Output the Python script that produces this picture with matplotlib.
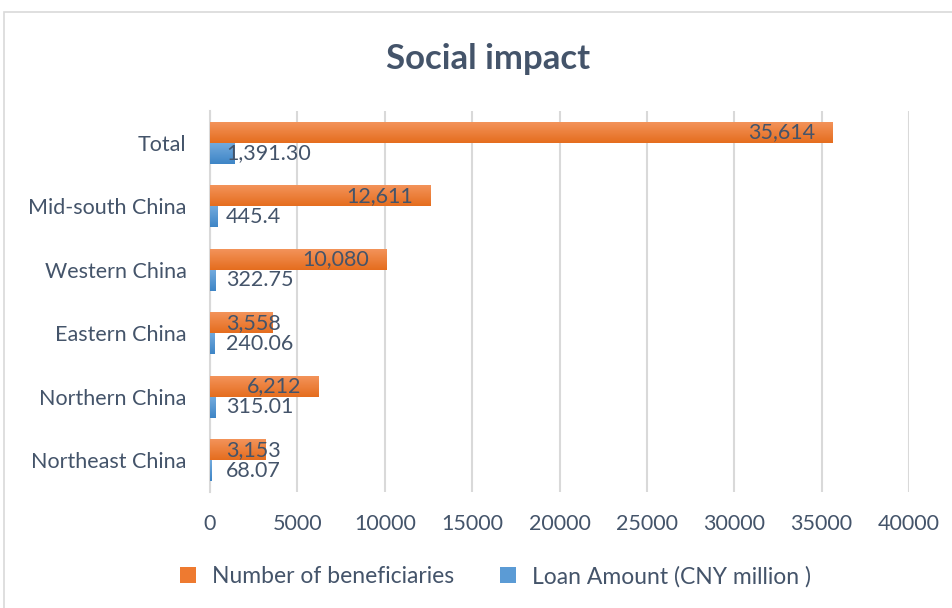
import numpy as np
import matplotlib
matplotlib.use("Agg")
import matplotlib.pyplot as plt
from matplotlib.patches import Rectangle
from matplotlib.colors import LinearSegmentedColormap

plt.rcParams['font.family'] = ['Lato', 'DejaVu Sans']

regions = ["Northeast China", "Northern China", "Eastern China",
           "Western China", "Mid-south China", "Total"]
beneficiaries = [3153, 6212, 3558, 10080, 12611, 35614]
beneficiary_labels = ["3,153", "6,212", "3,558", "10,080", "12,611", "35,614"]
loan_amount = [68.07, 315.01, 240.06, 322.75, 445.4, 1391.30]
loan_labels = ["68.07", "315.01", "240.06", "322.75", "445.4", "1,391.30"]

ORANGE = "#EE7A30"
BLUE = "#5B9BD5"
TEXT = "#44546A"
FS = 15.5

fig = plt.figure(figsize=(9.53, 6.08), dpi=100)
ax = fig.add_axes([0.2204, 0.1908, 0.7334, 0.6266])

# chart border
fig.patches.append(Rectangle((4 / 953, -0.01), 1.0, 1 - 12 / 608 + 0.01,
                             transform=fig.transFigure, fill=False,
                             edgecolor="#D9D9D9", linewidth=1.2))

y = np.arange(len(regions))
h = 0.33
b1 = ax.barh(y + h / 2, beneficiaries, height=h, color=ORANGE, zorder=3,
             label="Number of beneficiaries")
b2 = ax.barh(y - h / 2, loan_amount, height=h, color=BLUE, zorder=3,
             label="Loan Amount (CNY million )")

# Excel-like vertical gradient fill
grad = np.linspace(0, 1, 64).reshape(-1, 1)
cm_o = LinearSegmentedColormap.from_list("o", ["#E56D1E", "#F3935A"])
cm_b = LinearSegmentedColormap.from_list("b", ["#3E85C6", "#72AADD"])
for bars, cm in [(b1, cm_o), (b2, cm_b)]:
    for p in bars:
        x0, y0 = p.get_x(), p.get_y()
        ax.imshow(grad, cmap=cm, aspect="auto", origin="lower", zorder=3.1,
                  extent=[x0, x0 + p.get_width(), y0, y0 + p.get_height()])

for yi, v, lab in zip(y, beneficiaries, beneficiary_labels):
    if v < 5000:
        ax.text(920, yi + h / 2, lab, ha="left", va="center",
                fontsize=FS, color=TEXT, zorder=4)
    else:
        ax.text(v - 970, yi + h / 2, lab, ha="right", va="center",
                fontsize=FS, color=TEXT, zorder=4)
for yi, lab in zip(y, loan_labels):
    ax.text(920, yi - h / 2, lab, ha="left", va="center",
            fontsize=FS, color=TEXT, zorder=4)

ax.set_xlim(0, 40000)
ax.set_ylim(-0.5, len(regions) - 0.5)
ax.set_xticks(np.arange(0, 40001, 5000))
ax.set_yticks(y)
ax.set_yticklabels(regions)
ax.tick_params(axis="both", length=0, labelsize=FS, labelcolor=TEXT)
ax.tick_params(axis="x", pad=16)
ax.tick_params(axis="y", pad=17)
ax.grid(axis="x", color="#D9D9D9", linewidth=1.5, zorder=0)
for s in ["top", "right", "bottom"]:
    ax.spines[s].set_visible(False)
ax.spines["left"].set_color("#D9D9D9")
ax.spines["left"].set_linewidth(1.5)

fig.text(0.512, 0.903, "Social impact", ha="center", va="center",
         fontsize=25, fontweight="bold", color=TEXT)

fig.legend(loc="center", bbox_to_anchor=(0.52, 0.052), ncol=2, frameon=False,
           fontsize=16.5, labelcolor=TEXT, handlelength=0.7, handleheight=0.7,
           handletextpad=0.7, columnspacing=2.0)

fig.savefig("out.png", dpi=100)
